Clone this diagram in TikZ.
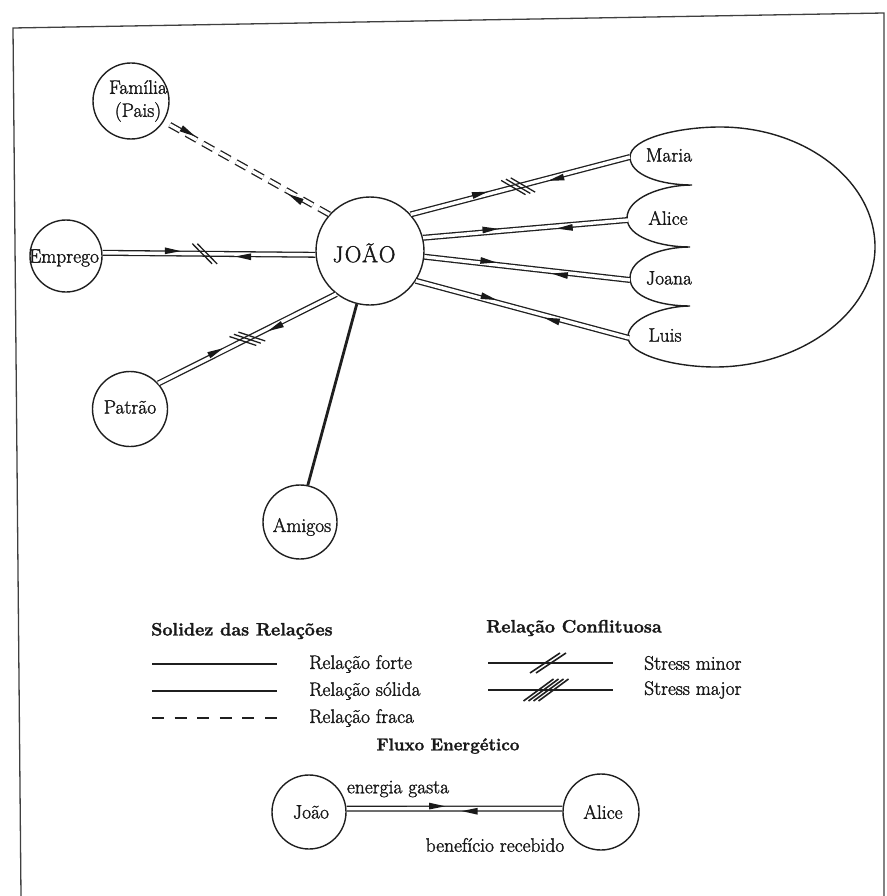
\documentclass[tikz,border=0pt]{standalone}
\usepackage{fontspec}
\setmainfont{Latin Modern Roman}[FakeBold=1.6]
\usetikzlibrary{decorations.markings}
\begin{document}
\begin{tikzpicture}[x=1pt,y=-1pt,
  every node/.style={font=\fontsize{19.5}{23}\selectfont\addfontfeature{FakeBold=1.6}, inner sep=1pt, text=black!90},
  person/.style={circle, draw=black!88, line width=1.4pt, inner sep=0pt, minimum size=#1},
  heading/.style={font=\bfseries\fontsize{18}{21}\selectfont, anchor=west},
  dbl/.style={draw=black!88, line width=1.3pt, double=white, double distance=3.4pt},
  flows/.style 2 args={postaction={decorate, decoration={markings,
      mark=at position #1 with {\fill[black!90] (8pt,2.4pt) -- (-8pt,6pt) -- (-8pt,-0.8pt) -- cycle;},
      mark=at position #2 with {\fill[black!90] (-8pt,-2.4pt) -- (8pt,-6pt) -- (8pt,0.8pt) -- cycle;}}}},
  stress/.style 2 args={postaction={decorate, decoration={markings,
      mark=at position #1 with {\foreach \k in {1,...,#2}{\draw[black!88, line width=1.3pt, xshift={(\k-1)*5pt-(#2-1)*2.5pt}] (-10pt,10pt) -- (10pt,-10pt);}}}}},
  strongline/.style={draw=black!88, line width=2.8pt},
  solidline/.style={draw=black!88, line width=1.6pt},
  weakline/.style={draw=black!88, line width=2.2pt, dash pattern=on 12pt off 10.6pt},
  slash/.style={draw=black!88, line width=1.6pt}
]
\useasboundingbox (0,0) rectangle (886,896);

% page frame
\draw[black!75, line width=1.3pt] (21,896) -- (13,28) -- (884,13) -- (884,896);

% people around João
\node[person=108pt] (joao) at (370,251) {};
\node (joaotxt) at (364,253) {\fontsize{23}{25}\selectfont\addfontfeature{LetterSpace=6,FakeBold=1.6}JOÃO};

\node[person=76pt] (fam) at (131,101) {};
\node[align=center, font=\fontsize{19.5}{23}\selectfont\addfontfeature{FakeBold=1.6}] (famtxt) at (138,101) {Família\\(Pais)};

\node[person=72pt] (emp) at (66,256) {};
\node (emptxt) at (64,258) {Emprego};

\node[person=75pt] (pat) at (130,409) {};
\node (pattxt) at (130,407) {Patrão};

\node[person=74pt] (ami) at (300,522) {};
\node (amitxt) at (302,527) {Amigos};

% household: one big ellipse with four lobes
\draw[black!88, line width=1.4pt]
  (720,127) .. controls (805,127) and (875,181) .. (875,247)
  .. controls (875,313) and (800,367) .. (715,367)
  .. controls (675,367) and (628,355) .. (628,337)
  .. controls (628,318) and (665,306) .. (690,306)
  .. controls (660,306) and (630,297) .. (630,278)
  .. controls (630,258) and (662,247) .. (690,247)
  .. controls (660,247) and (627,237) .. (627,218)
  .. controls (627,198) and (662,185) .. (692,185)
  .. controls (660,185) and (630,175) .. (630,157)
  .. controls (630,138) and (680,127) .. (720,127) -- cycle;
\node (mariatxt) at (669,155) {Maria};
\node (alicetxt) at (668,218) {Alice};
\node (joanatxt) at (669,278) {Joana};
\node (luistxt) at (665,335) {Luis};
\coordinate (maria) at (630,157);
\coordinate (alice) at (628,220);
\coordinate (joana) at (630,280);
\coordinate (luis) at (629,338);

% relations of João
\draw[dbl, dash pattern=on 12pt off 7pt] (joao.138) -- (fam.-32);
\path[flows={0.2}{0.86}] (joao.138) -- (fam.-32);

\draw[dbl] (joao.184) -- (emp.5);
\path[flows={0.34}{0.67}, stress={0.52}{2}] (joao.184) -- (emp.5);

\draw[dbl] (joao.232) -- (pat.42);
\path[flows={0.35}{0.67}, stress={0.5}{3}] (joao.232) -- (pat.42);

\draw[strongline] (joao.256) -- (ami.78);

\draw[dbl] (joao.42) -- (maria);
\path[flows={0.32}{0.66}, stress={0.49}{3}] (joao.42) -- (maria);

\draw[dbl] (joao.14) -- (alice);
\path[flows={0.33}{0.69}] (joao.14) -- (alice);

\draw[dbl] (joao.-6) -- (joana);
\path[flows={0.31}{0.66}] (joao.-6) -- (joana);

\draw[dbl] (joao.-33) -- (luis);
\path[flows={0.34}{0.64}] (joao.-33) -- (luis);

% legend: strength of relations
\node[heading] (soltitle) at (150,631) {Solidez das Relações};
\coordinate (fa) at (152,664); \coordinate (fb) at (277,664);
\coordinate (sa) at (152,691); \coordinate (sb) at (277,691);
\coordinate (wa) at (152,718); \coordinate (wb) at (277,718);
\draw[strongline] (fa) -- (fb);
\draw[solidline] (sa) -- (sb);
\draw[weakline] (wa) -- (wb);
\node[anchor=west] (fortetxt) at (308,664) {Relação forte};
\node[anchor=west] (solidatxt) at (308,691) {Relação sólida};
\node[anchor=west] (fracatxt) at (308,718) {Relação fraca};

% legend: conflicts
\node[heading] (contitle) at (485,628) {Relação Conflituosa};
\coordinate (ma) at (488,663); \coordinate (mb) at (613,663);
\coordinate (ja) at (488,690); \coordinate (jb) at (613,690);
\draw[solidline] (ma) -- (mb);
\draw[solidline] (ja) -- (jb);
\foreach \d in {-3,3} \draw[slash] (533+\d,673) -- (563+\d,653);
\foreach \d in {-7.5,-2.5,2.5,7.5} \draw[slash] (531+\d,701) -- (561+\d,679);
\node[anchor=west] (minortxt) at (643,663) {Stress minor};
\node[anchor=west] (majortxt) at (643,690) {Stress major};

% legend: energy flow
\node[font=\bfseries\fontsize{17}{20}\selectfont] (fluxtitle) at (448,746) {Fluxo Energético};
\node[person=74pt] (joao2) at (309,812) {};
\node (joao2txt) at (311,812) {João};
\node[person=76pt] (alice2) at (601,812) {};
\node (alice2txt) at (603,812) {Alice};
\draw[dbl] (joao2.5) -- (alice2.175);
\path[flows={0.42}{0.57}] (joao2.5) -- (alice2.175);
\node (gastatxt) at (398,789) {energia gasta};
\node (recebtxt) at (495,845) {benefício recebido};
\end{tikzpicture}
\end{document}
